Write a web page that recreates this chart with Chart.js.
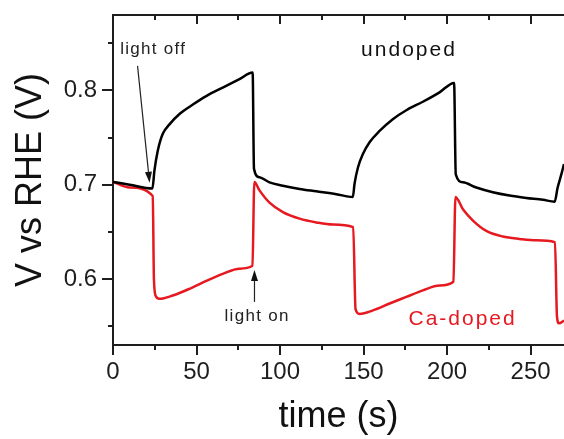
<!DOCTYPE html>
<html>
<head>
<meta charset="utf-8">
<script src="https://cdn.jsdelivr.net/npm/chart.js@4/dist/chart.umd.min.js"></script>
<style>
  html, body { margin: 0; padding: 0; background: #fff; }
  #wrap { width: 564px; height: 439px; }
</style>
</head>
<body>
<div id="wrap"><canvas id="chart" width="564" height="439"></canvas></div>
<script>
// time (s) and potential (V vs RHE)
const undopedT = [0, 10, 23.6, 24.8, 26.8, 29.8, 33.8, 39.8, 47.8, 55.8, 65.7, 75.7, 83.6,
  84.4, 87.7, 93.7, 101.7, 111.7, 121.7, 133.7, 143.6,
  144.6, 146.6, 149.6, 153.6, 159.6, 167.5, 175.6, 185.5, 195.5, 204.2,
  205.2, 209.5, 217.5, 227.4, 237.4, 247.4, 257.4, 264.4, 266.2, 268.4, 270];
const undopedV = [0.703, 0.700, 0.696, 0.715, 0.736, 0.754, 0.764, 0.775, 0.785, 0.794, 0.803, 0.812, 0.819,
  0.717, 0.708, 0.7025, 0.699, 0.6955, 0.693, 0.690, 0.687,
  0.701, 0.718, 0.7325, 0.745, 0.757, 0.7695, 0.779, 0.788, 0.798, 0.808,
  0.711, 0.7025, 0.697, 0.692, 0.6885, 0.686, 0.684, 0.682, 0.697, 0.711, 0.722];

const caT = [0, 10, 23.8, 24.5, 25.6, 27.8, 35.8, 45.8, 55.8, 65.7, 75.7, 83.5,
  84.6, 87.7, 93.7, 101.7, 111.7, 121.7, 131.6, 143.8,
  145.2, 147.6, 155.6, 165.6, 175.6, 185.5, 195.5, 203.8,
  205.0, 209.5, 215.5, 223.5, 233.4, 243.4, 253.4, 264.6,
  265.8, 267, 270];
const caV = [0.703, 0.697, 0.688, 0.600, 0.582, 0.579, 0.5825, 0.5896, 0.598, 0.6055, 0.611, 0.614,
  0.703, 0.694, 0.681, 0.671, 0.664, 0.660, 0.6577, 0.655,
  0.568, 0.563, 0.5667, 0.574, 0.581, 0.588, 0.593, 0.597,
  0.687, 0.674, 0.662, 0.651, 0.645, 0.6425, 0.641, 0.639,
  0.560, 0.553, 0.556];

const xTicks = [0, 50, 100, 150, 200, 250];
const xMinor = [25, 75, 125, 175, 225];
const yTicks = [0.6, 0.7, 0.8];
const yMinor = [0.55, 0.65, 0.75, 0.85];

const AX = '#1e1e1e';
const RED = '#e5191f';
const FONT = '"Liberation Sans", Arial, sans-serif';

function pairs(xs, ys) {
  return xs.map((x, i) => ({ x: x, y: ys[i] }));
}

// annotations: text and arrows, placed in data units
const notes = [
  { text: 'light off', t: 23.7, v: 0.844, color: '#222', size: 17, spacing: 1.3 },
  { text: 'light on', t: 85.9, v: 0.560, color: '#222', size: 17, spacing: 1.3 },
  { text: 'undoped', t: 176.6, v: 0.843, color: '#111', size: 21, spacing: 2 },
  { text: 'Ca-doped', t: 208.7, v: 0.5577, color: RED, size: 21, spacing: 2 }
];
const arrows = [
  { t0: 14.7, v0: 0.826, t1: 21.9, v1: 0.702 },
  { t0: 84.7, v0: 0.5757, t1: 84.7, v1: 0.6095 }
];

const extras = {
  id: 'extras',
  afterDraw(chart) {
    const ctx = chart.ctx;
    const x = chart.scales.x, y = chart.scales.y;
    const area = chart.chartArea;
    ctx.save();
    ctx.strokeStyle = AX;
    ctx.lineWidth = 2;
    // top frame line
    ctx.beginPath();
    ctx.moveTo(area.left - 1, area.top);
    ctx.lineTo(area.right, area.top);
    ctx.stroke();
    // minor ticks bottom and left
    ctx.beginPath();
    xMinor.forEach(t => {
      const px = Math.round(x.getPixelForValue(t));
      ctx.moveTo(px, area.bottom);
      ctx.lineTo(px, area.bottom + 5);
    });
    yMinor.forEach(v => {
      const py = Math.round(y.getPixelForValue(v));
      ctx.moveTo(area.left, py);
      ctx.lineTo(area.left - 5, py);
    });
    // top ticks pointing inward
    xTicks.forEach(t => {
      const px = Math.round(x.getPixelForValue(t));
      ctx.moveTo(px, area.top);
      ctx.lineTo(px, area.top + 9);
    });
    xMinor.forEach(t => {
      const px = Math.round(x.getPixelForValue(t));
      ctx.moveTo(px, area.top);
      ctx.lineTo(px, area.top + 5);
    });
    ctx.stroke();

    // arrows
    arrows.forEach(a => {
      const x0 = x.getPixelForValue(a.t0), y0 = y.getPixelForValue(a.v0);
      const x1 = x.getPixelForValue(a.t1), y1 = y.getPixelForValue(a.v1);
      const ang = Math.atan2(y1 - y0, x1 - x0);
      const hl = 11, hw = 3.5;
      ctx.strokeStyle = '#222';
      ctx.fillStyle = '#111';
      ctx.lineWidth = 1.2;
      ctx.beginPath();
      ctx.moveTo(x0, y0);
      ctx.lineTo(x1 - hl * Math.cos(ang), y1 - hl * Math.sin(ang));
      ctx.stroke();
      ctx.beginPath();
      ctx.moveTo(x1, y1);
      ctx.lineTo(x1 - hl * Math.cos(ang) + hw * Math.sin(ang), y1 - hl * Math.sin(ang) - hw * Math.cos(ang));
      ctx.lineTo(x1 - hl * Math.cos(ang) - hw * Math.sin(ang), y1 - hl * Math.sin(ang) + hw * Math.cos(ang));
      ctx.closePath();
      ctx.fill();
    });

    // text labels
    notes.forEach(n => {
      ctx.font = n.size + 'px ' + FONT;
      ctx.letterSpacing = n.spacing + 'px';
      ctx.fillStyle = n.color;
      ctx.textAlign = 'center';
      ctx.textBaseline = 'middle';
      ctx.fillText(n.text, x.getPixelForValue(n.t) + n.spacing / 2, y.getPixelForValue(n.v));
    });
    ctx.restore();
  }
};

new Chart(document.getElementById('chart'), {
  type: 'line',
  data: {
    datasets: [
      {
        label: 'undoped',
        data: pairs(undopedT, undopedV),
        borderColor: '#000',
        borderWidth: 2.5,
        pointRadius: 0,
        cubicInterpolationMode: 'monotone'
      },
      {
        label: 'Ca-doped',
        data: pairs(caT, caV),
        borderColor: RED,
        borderWidth: 2.5,
        pointRadius: 0,
        cubicInterpolationMode: 'monotone'
      }
    ]
  },
  options: {
    responsive: false,
    animation: false,
    layout: { padding: { top: 15, right: 0, left: 0, bottom: 0 } },
    plugins: { legend: { display: false }, tooltip: { enabled: false } },
    scales: {
      x: {
        type: 'linear',
        min: 0,
        max: 270,
        afterFit: s => { s.height = 94; s.paddingLeft = 0; s.paddingRight = 0; },
        ticks: {
          stepSize: 25,
          includeBounds: false,
          autoSkip: false,
          maxRotation: 0,
          padding: 3,
          color: AX,
          font: { family: FONT, size: 24 },
          callback: v => xTicks.includes(v) ? String(v) : null
        },
        grid: { drawOnChartArea: false, tickLength: 10, color: AX, lineWidth: 2 },
        border: { color: AX, width: 2 },
        title: {
          display: true,
          text: 'time (s)',
          color: '#111',
          padding: { top: 0, bottom: 0 },
          font: { family: FONT, size: 36 }
        }
      },
      y: {
        type: 'linear',
        min: 0.53,
        max: 0.88,
        afterFit: s => { s.width = 113; s.paddingTop = 0; s.paddingBottom = 0; },
        afterBuildTicks: s => { s.ticks = yTicks.map(v => ({ value: v })); },
        ticks: {
          autoSkip: false,
          padding: 5,
          color: AX,
          font: { family: FONT, size: 24 },
          callback: v => Number(v).toFixed(1)
        },
        grid: { drawOnChartArea: false, tickLength: 11, color: AX, lineWidth: 2 },
        border: { color: AX, width: 2 },
        title: {
          display: true,
          text: 'V vs RHE (V)',
          color: '#111',
          padding: { top: 9, bottom: 0 },
          font: { family: FONT, size: 36 }
        }
      }
    }
  },
  plugins: [extras]
});
</script>
</body>
</html>
